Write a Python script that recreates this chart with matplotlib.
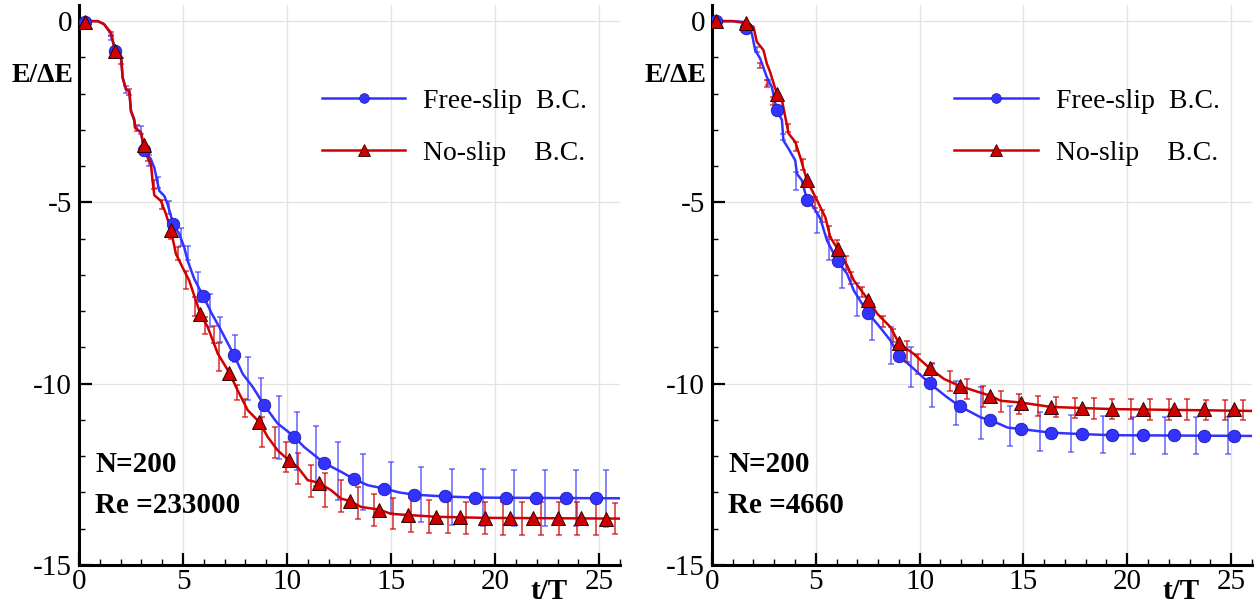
import matplotlib
matplotlib.use("Agg")
import matplotlib.pyplot as plt
from matplotlib.ticker import MultipleLocator

# ---- left panel (Re = 233000) ----
L_blue_t = [0, 0.9, 1.2, 1.54, 1.75, 2.02, 2.10, 2.26, 2.42, 2.50, 2.66, 2.70, 2.98, 3.14, 3.30, 3.45,
            3.62, 3.86, 4.10, 4.26, 4.53, 4.82, 5.06, 5.22, 5.54, 5.98, 6.35, 6.83, 7.44, 7.87, 8.35,
            8.91, 9.55, 10.0, 10.35, 10.83, 11.79, 12.60, 13.21, 13.88, 14.65, 15.4, 16.12, 17.60,
            19.04, 22.0, 26.0]
L_blue_E = [0, 0, -0.08, -0.35, -0.83, -0.96, -1.56, -1.88, -1.93, -2.48, -2.75, -2.94, -3.07, -3.56,
            -3.70, -3.80, -4.04, -4.68, -4.82, -5.05, -5.60, -5.87, -6.24, -6.60, -7.11, -7.59, -8.03,
            -8.53, -9.20, -9.73, -10.09, -10.60, -11.10, -11.30, -11.47, -11.75, -12.19, -12.43,
            -12.63, -12.80, -12.89, -13.0, -13.06, -13.11, -13.14, -13.15, -13.16]
L_red_t = [0, 0.9, 1.2, 1.54, 1.73, 2.02, 2.10, 2.26, 2.42, 2.50, 2.66, 2.70, 2.98, 3.11, 3.30, 3.46,
           3.54, 3.62, 3.94, 4.18, 4.42, 4.66, 4.90, 5.30, 5.83, 6.19, 6.67, 7.23, 7.63, 8.11, 8.67,
           9.07, 9.55, 10.08, 10.51, 10.99, 11.52, 12.12, 12.60, 13.0, 13.56, 14.41, 15.0, 15.8,
           17.16, 19.5, 26.0]
L_red_E = [0, 0, -0.08, -0.32, -0.82, -0.96, -1.56, -1.88, -1.93, -2.48, -2.71, -2.94, -3.07, -3.45,
           -3.76, -3.95, -4.41, -4.80, -4.96, -5.32, -5.76, -6.42, -6.70, -7.16, -8.07, -8.44, -9.17,
           -9.70, -10.19, -10.73, -11.06, -11.47, -11.84, -12.11, -12.30, -12.66, -12.73, -12.94,
           -13.17, -13.23, -13.40, -13.47, -13.59, -13.62, -13.67, -13.70, -13.72]

L_blue_mk_t = [0.29, 1.75, 3.14, 4.53, 5.98, 7.44, 8.91, 10.35, 11.79, 13.21, 14.65, 16.12, 17.60,
               19.04, 20.50, 21.97, 23.41, 24.86]
L_blue_mk_E = [-0.03, -0.83, -3.56, -5.60, -7.59, -9.20, -10.60, -11.47, -12.19, -12.63, -12.89,
               -13.06, -13.11, -13.14, -13.14, -13.15, -13.15, -13.15]
L_red_mk_t = [0.29, 1.73, 3.11, 4.42, 5.83, 7.23, 8.67, 10.08, 11.52, 13.0, 14.41, 15.80, 17.16,
              18.33, 19.49, 20.69, 21.81, 23.01, 24.13, 25.34]
L_red_mk_E = [-0.02, -0.81, -3.42, -5.76, -8.07, -9.70, -11.06, -12.11, -12.73, -13.23, -13.47,
              -13.62, -13.67, -13.67, -13.70, -13.70, -13.70, -13.70, -13.70, -13.72]

L_blue_err_t = [1.55, 2.26, 2.98, 3.35, 3.78, 4.33, 4.90, 5.22, 5.71, 6.30, 6.78, 7.50, 8.11, 8.75,
                9.60, 10.48, 11.39, 12.47, 13.64, 14.97, 16.44, 17.92, 19.41, 20.90, 22.40, 23.89,
                25.34]
L_blue_err_E = [-0.45, -1.88, -3.0, -3.85, -4.45, -5.13, -5.95, -6.40, -7.34, -7.98, -8.50, -9.04,
                -9.86, -10.51, -11.21, -11.58, -11.99, -12.41, -12.70, -12.87, -13.05, -13.13,
                -13.14, -13.15, -13.15, -13.15, -13.16]
L_blue_err = [0.08, 0.10, 0.10, 0.15, 0.15, 0.18, 0.25, 0.20, 0.41, 0.46, 0.35, 0.37, 0.60, 0.68,
              0.87, 0.80, 0.82, 0.80, 0.77, 0.70, 0.76, 0.78, 0.78, 0.78, 0.78, 0.78, 0.78]
L_red_err_t = [1.54, 2.02, 2.42, 2.80, 3.30, 3.62, 4.00, 4.42, 4.75, 5.14, 5.59, 6.06, 6.51, 6.75,
               7.60, 8.00, 8.78, 9.42, 9.97, 10.54, 11.15, 11.80, 12.60, 13.40, 14.20, 15.08, 15.96,
               16.84, 17.72, 18.61, 19.49, 20.38, 21.28, 22.18, 23.06, 23.94, 24.86, 25.74]
L_red_err_E = [-0.35, -1.10, -1.95, -2.95, -3.75, -4.50, -5.05, -5.85, -6.40, -7.15, -7.87, -8.40,
               -8.64, -9.26, -10.24, -10.66, -11.33, -11.63, -12.02, -12.34, -12.68, -12.93, -13.10,
               -13.30, -13.48, -13.59, -13.62, -13.66, -13.68, -13.70, -13.70, -13.71, -13.71,
               -13.72, -13.72, -13.72, -13.72, -13.72]
L_red_err = [0.06, 0.08, 0.08, 0.08, 0.10, 0.12, 0.12, 0.15, 0.18, 0.25, 0.25, 0.24, 0.24, 0.38,
             0.20, 0.25, 0.41, 0.43, 0.41, 0.43, 0.44, 0.47, 0.44, 0.44, 0.45, 0.43, 0.46, 0.45,
             0.45, 0.45, 0.45, 0.45, 0.45, 0.45, 0.45, 0.45, 0.45, 0.43]

# ---- right panel (Re = 4660) ----
R_blue_t = [0, 1.0, 1.51, 1.64, 1.92, 2.08, 2.32, 2.64, 2.88, 3.12, 3.37, 3.44, 3.69, 4.01, 4.09,
            4.33, 4.57, 4.89, 5.22, 5.54, 6.05, 6.51, 6.83, 7.52, 7.96, 8.60, 9.0, 9.72, 10.48,
            11.34, 11.93, 12.95, 13.40, 14.24, 14.88, 16.33, 17.81, 19.28, 26.0]
R_blue_E = [0, 0, -0.02, -0.20, -0.34, -0.80, -1.03, -1.54, -1.81, -2.44, -2.73, -3.29, -3.52, -3.84,
            -4.21, -4.39, -4.92, -5.13, -5.45, -6.05, -6.62, -6.97, -7.43, -8.06, -8.35, -8.81,
            -9.23, -9.59, -9.99, -10.38, -10.62, -10.93, -11.0, -11.21, -11.25, -11.35, -11.39,
            -11.42, -11.44]
R_red_t = [0, 1.0, 1.68, 2.0, 2.16, 2.48, 2.64, 2.80, 3.12, 3.37, 3.53, 3.69, 4.01, 4.25, 4.57, 5.06,
           5.46, 5.70, 6.05, 6.51, 6.83, 7.52, 7.96, 8.60, 9.0, 9.72, 10.48, 11.18, 11.93, 12.62,
           13.40, 13.91, 14.88, 16.33, 17.81, 19.28, 26.0]
R_red_E = [0, 0, -0.06, -0.16, -0.57, -0.80, -1.17, -1.40, -2.0, -2.18, -2.64, -3.10, -3.33, -3.75,
           -4.39, -4.94, -5.41, -5.96, -6.28, -6.74, -7.15, -7.68, -8.07, -8.44, -8.88, -9.18,
           -9.57, -9.87, -10.06, -10.19, -10.33, -10.47, -10.52, -10.64, -10.67, -10.70, -10.75]

R_mk_t = [0.18, 1.64, 3.12, 4.57, 6.05, 7.52, 9.00, 10.48, 11.93, 13.40, 14.88, 16.33, 17.81, 19.28,
          20.76, 22.24, 23.69, 25.15]
R_blue_mk_E = [0, -0.20, -2.44, -4.92, -6.62, -8.06, -9.23, -9.99, -10.62, -11.0, -11.25, -11.35,
               -11.39, -11.42, -11.42, -11.42, -11.44, -11.44]
R_red_mk_E = [0, -0.06, -2.0, -4.39, -6.28, -7.68, -8.88, -9.57, -10.06, -10.33, -10.52, -10.64,
              -10.67, -10.70, -10.70, -10.70, -10.71, -10.71]

R_blue_err_t = [2.16, 2.72, 3.44, 4.06, 5.08, 5.64, 6.28, 6.97, 7.71, 8.63, 9.57, 10.61, 11.74, 12.98,
                14.36, 15.81, 17.29, 18.83, 20.30, 21.80, 23.33, 24.83]
R_blue_err_E = [-0.78, -1.70, -3.20, -4.40, -5.55, -6.30, -7.02, -7.67, -8.36, -8.95, -9.53, -10.05,
                -10.53, -10.81, -11.17, -11.32, -11.37, -11.40, -11.42, -11.42, -11.43, -11.43]
R_blue_err = [0.07, 0.07, 0.08, 0.25, 0.28, 0.30, 0.35, 0.45, 0.43, 0.51, 0.55, 0.60, 0.61, 0.71,
              0.56, 0.53, 0.52, 0.52, 0.51, 0.51, 0.51, 0.51]
R_red_err_t = [2.32, 2.64, 2.96, 3.64, 4.06, 4.38, 4.94, 5.30, 5.62, 6.02, 6.46, 6.71, 7.23, 7.70,
               8.25, 8.73, 9.37, 9.94, 10.61, 11.47, 12.26, 13.06, 13.91, 14.81, 15.70, 16.58, 17.49,
               18.39, 19.28, 20.19, 21.11, 21.99, 22.90, 23.78, 24.70, 25.59]
R_red_err_E = [-1.22, -1.72, -2.20, -2.95, -3.45, -3.95, -5.00, -5.38, -5.79, -6.22, -6.67, -7.08,
               -7.48, -7.95, -8.29, -8.67, -9.11, -9.46, -9.71, -9.93, -10.14, -10.34, -10.48,
               -10.55, -10.61, -10.65, -10.67, -10.68, -10.70, -10.70, -10.71, -10.71, -10.71,
               -10.72, -10.72, -10.73]
R_red_err = [0.07, 0.09, 0.11, 0.12, 0.12, 0.16, 0.16, 0.16, 0.15, 0.18, 0.18, 0.16, 0.14, 0.16,
             0.15, 0.19, 0.30, 0.28, 0.28, 0.28, 0.28, 0.29, 0.29, 0.28, 0.28, 0.28, 0.28, 0.28,
             0.28, 0.28, 0.28, 0.28, 0.28, 0.28, 0.28, 0.28]

labels = ["Free-slip  B.C.", "No-slip    B.C."]
annot = [("N=200", "Re =233000"), ("N=200", "Re =4660")]

BLUE = "#3333ff"
RED = "#d00000"

plt.rcParams['font.family'] = ['Liberation Serif', 'DejaVu Serif']
plt.rcParams['axes.unicode_minus'] = False

fig = plt.figure(figsize=(12.57, 6.03), dpi=100)
ax1 = fig.add_axes([0.0628, 0.063, 0.4305, 0.929])
ax2 = fig.add_axes([0.5664, 0.063, 0.4295, 0.929])


def draw_panel(ax, bt, bE, rt, rE, bmt, bmE, rmt, rmE, bet, beE, be, ret, reE, re, txt):
    ax.errorbar(bet, beE, yerr=be, fmt='none', ecolor=BLUE, elinewidth=1.3, capsize=2,
                capthick=1.2, alpha=0.65, zorder=2)
    ax.errorbar(ret, reE, yerr=re, fmt='none', ecolor=RED, elinewidth=1.3, capsize=2,
                capthick=1.2, alpha=0.7, zorder=2)
    ax.plot(bt, bE, color=BLUE, lw=1.8, zorder=3)
    ax.plot(rt, rE, color=RED, lw=1.8, zorder=4)
    ax.plot(bmt, bmE, 'o', color=BLUE, mec='#1a1ab0', mew=0.6, ms=9, zorder=5)
    ax.plot(rmt, rmE, '^', color=RED, mec='#300000', mew=0.7, ms=10, zorder=6)

    # legend proxies
    h1, = ax.plot([], [], '-o', color=BLUE, lw=1.8, ms=7, mec='#1a1ab0', mew=0.5)
    h2, = ax.plot([], [], '-^', color=RED, lw=1.8, ms=8, mec='#300000', mew=0.6)
    ax.legend([h1, h2], labels, loc='center left', bbox_to_anchor=(0.449, 0.782),
              frameon=False, fontsize=20, handlelength=3.0, handletextpad=0.65,
              labelspacing=0.95, borderpad=0, borderaxespad=0, numpoints=1)

    ax.set_xlim(0, 26)
    ax.set_ylim(-15, 0.45)
    ax.xaxis.set_major_locator(MultipleLocator(5))
    ax.xaxis.set_minor_locator(MultipleLocator(1))
    ax.yaxis.set_major_locator(MultipleLocator(5))
    ax.yaxis.set_minor_locator(MultipleLocator(1))
    ax.grid(True, which='major', color='#e3e3e3', lw=0.9, zorder=0)
    ax.set_axisbelow(True)
    for s in ['top', 'right']:
        ax.spines[s].set_visible(False)
    for s in ['left', 'bottom']:
        ax.spines[s].set_linewidth(2.2)
    ax.tick_params(which='major', direction='in', length=9, width=1.6, labelsize=21)
    ax.tick_params(axis='y', which='major', pad=5)
    ax.tick_params(axis='x', which='major', pad=3)
    ax.tick_params(which='minor', direction='in', length=4.5, width=1.0)

    ax.text(-0.011, 0.873, "E/ΔE", transform=ax.transAxes, ha='right', va='center',
            fontsize=20, fontweight='bold')
    ax.text(0.868, -0.047, "t/T", transform=ax.transAxes, ha='center', va='center',
            fontsize=21, fontweight='bold')
    ax.text(0.03, 0.179, txt[0], transform=ax.transAxes, ha='left', va='center',
            fontsize=21, fontweight='bold')
    ax.text(0.03, 0.107, txt[1], transform=ax.transAxes, ha='left', va='center',
            fontsize=21, fontweight='bold')


draw_panel(ax1, L_blue_t, L_blue_E, L_red_t, L_red_E,
           L_blue_mk_t, L_blue_mk_E, L_red_mk_t, L_red_mk_E,
           L_blue_err_t, L_blue_err_E, L_blue_err, L_red_err_t, L_red_err_E, L_red_err, annot[0])
draw_panel(ax2, R_blue_t, R_blue_E, R_red_t, R_red_E,
           R_mk_t, R_blue_mk_E, R_mk_t, R_red_mk_E,
           R_blue_err_t, R_blue_err_E, R_blue_err, R_red_err_t, R_red_err_E, R_red_err, annot[1])

fig.savefig("out.png", dpi=100)
